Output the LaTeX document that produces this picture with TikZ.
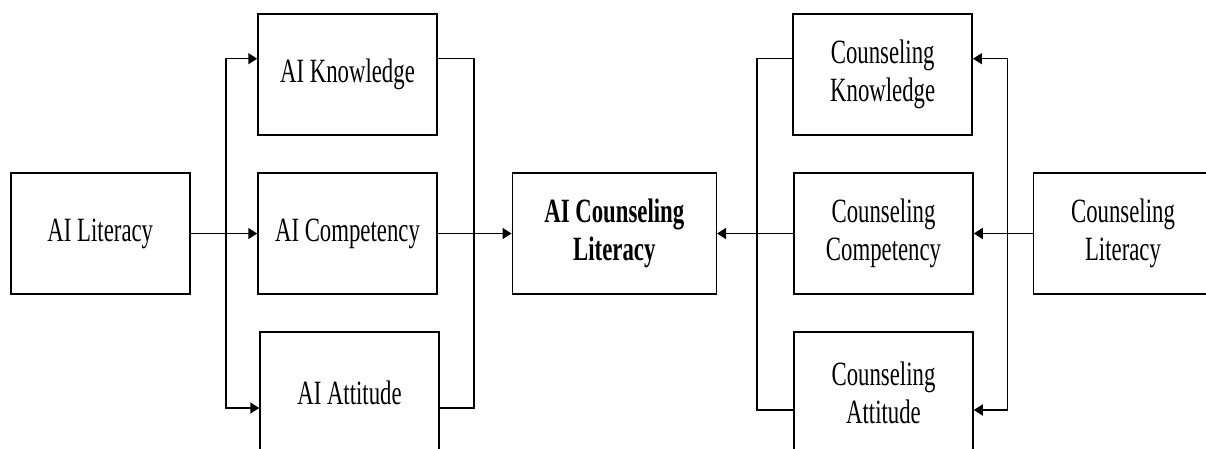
\documentclass[tikz,border=0pt]{standalone}
\usepackage{fontspec}
\setmainfont{Liberation Serif}[FakeStretch=0.67]
\usetikzlibrary{arrows.meta,calc}
\tikzset{
  box/.style={draw, line width=1.5pt, minimum width=179pt, minimum height=121pt,
    inner sep=0pt, align=center, font=\fontsize{34}{38}\selectfont},
  link/.style={line width=1.5pt},
  arr/.style={link, -{Triangle[length=9pt,width=11pt]}}
}
\begin{document}
\begin{tikzpicture}[x=1pt,y=-1pt]
\useasboundingbox (0,0) rectangle (1206,448);
% left branch: AI literacy
\node[box] (lit)  at (100.3,233.5) {AI Literacy};
\node[box] (know) at (347.5,74.5)  {AI Knowledge};
\node[box] (comp) at (347.5,233.5) {AI Competency};
\node[box] (att)  at (349.5,392.5) {AI Attitude};
% centre
\node[box, minimum width=204pt, font=\fontsize{34}{38}\selectfont\bfseries] (acl) at (614.3,233.5) {AI Counseling\\Literacy};
% right branch: counseling literacy
\node[box] (cknow) at (882.7,74.5)  {Counseling\\Knowledge};
\node[box] (ccomp) at (883.5,233.5) {Counseling\\Competency};
\node[box] (catt)  at (883.5,392.5) {Counseling\\Attitude};
\node[box] (clit)  at (1123,233.5)  {Counseling\\Literacy};
% junction points
\coordinate (lb) at (226,233.5);
\coordinate (kin) at (know.west |- 0,58.7);
\coordinate (ain) at (att.west |- 0,408);
\coordinate (kout) at (know.east |- 0,58.7);
\coordinate (aout) at (att.east |- 0,408);
\coordinate (rb) at (474,233.5);
\coordinate (ckout) at (cknow.west |- 0,58.7);
\coordinate (caout) at (catt.west |- 0,410);
\coordinate (ckin) at (cknow.east |- 0,58.7);
\coordinate (cain) at (catt.east |- 0,410);
\coordinate (lb2) at (757,233.5);
\coordinate (rb2) at (1007.6,233.5);
% AI side connectors
\draw[arr] (lit.east) -- (comp.west);
\draw[arr] (lb) |- (kin);
\draw[arr] (lb) |- (ain);
\draw[link] (kout) -| (rb);
\draw[link] (aout) -| (rb);
\draw[arr] (comp.east) -- (acl.west);
% counseling side connectors
\draw[arr] (clit.west) -- (ccomp.east);
\draw[arr] (rb2) |- (ckin);
\draw[arr] (rb2) |- (cain);
\draw[link] (ckout) -| (lb2);
\draw[link] (caout) -| (lb2);
\draw[arr] (ccomp.west) -- (acl.east);
\end{tikzpicture}
\end{document}
